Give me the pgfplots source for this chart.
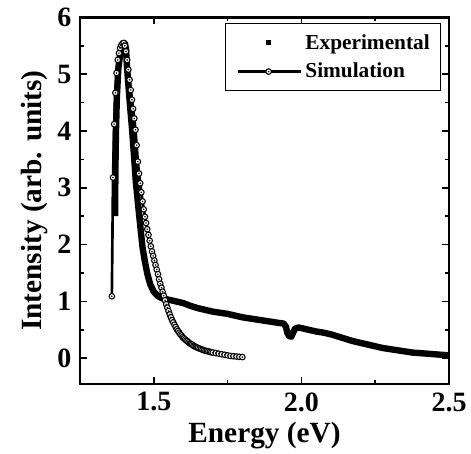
\documentclass[border=0pt]{standalone}
\usepackage{fontspec}
\setmainfont{Liberation Serif}
\usepackage{pgfplots}
\pgfplotsset{compat=1.18}

% open circle with a dot in the middle
\pgfdeclareplotmark{odot}{%
  \pgfpathcircle{\pgfpointorigin}{\pgfplotmarksize}%
  \pgfusepathqfillstroke
  \begin{pgfscope}
    \pgfsetfillcolor{black}%
    \pgfpathcircle{\pgfpointorigin}{0.32\pgfplotmarksize}%
    \pgfusepathqfill
  \end{pgfscope}}

\begin{document}
\begin{tikzpicture}
\begin{axis}[
  scale only axis, width=277pt, height=275pt,
  xmin=1.25, xmax=2.5, ymin=-0.45, ymax=6,
  xtick={1.5,2.0,2.5}, minor xtick={1.75,2.25},
  ytick={0,1,2,3,4,5,6}, minor ytick={0.5,1.5,2.5,3.5,4.5,5.5},
  xtick pos=both, ytick pos=both, tick align=inside,
  major tick length=5pt, minor tick length=3pt,
  every tick/.style={black, line width=1.2pt},
  axis line style={line width=1.8pt},
  /pgf/number format/assume math mode=true,
  tick label style={font=\fontsize{21}{25}\selectfont\bfseries},
  xticklabel style={/pgf/number format/fixed, /pgf/number format/fixed zerofill,
    /pgf/number format/precision=1, yshift=-3pt},
  yticklabel style={xshift=-3pt},
  label style={font=\fontsize{22}{26}\selectfont\bfseries},
  xlabel style={yshift=-1pt},
  xlabel={Energy (eV)}, ylabel={Intensity (arb. units)},
  legend style={at={(0.978,0.984)}, anchor=north east, draw=black, line width=0.8pt,
    font=\fontsize{16}{19}\selectfont\bfseries, inner xsep=7pt, inner ysep=6pt,
    row sep=5pt, nodes={inner xsep=1pt}},
  legend cell align=left,
]
\addplot[black, line width=4.8pt, line join=round,
  legend image code/.code={\path (0cm,0cm) (1.65cm,0cm);
    \fill[black, draw=none] (0.8cm-1.8pt,-1.8pt) rectangle ++(3.6pt,3.6pt);}]
  coordinates {
  (1.369,2.50) (1.370,3.30) (1.372,4.00) (1.375,4.60) (1.380,5.10) (1.387,5.38)
  (1.395,5.50) (1.402,5.55) (1.406,5.45) (1.409,5.15) (1.413,4.88) (1.418,4.55)
  (1.422,4.30) (1.427,4.00) (1.431,3.71) (1.435,3.42) (1.439,3.12) (1.445,2.80)
  (1.450,2.54) (1.456,2.24) (1.462,1.95) (1.470,1.70) (1.478,1.49) (1.488,1.30)
  (1.500,1.17) (1.515,1.09) (1.530,1.05) (1.550,1.03) (1.575,1.00) (1.600,0.97)
  (1.625,0.92) (1.650,0.88) (1.675,0.85) (1.700,0.82) (1.725,0.80) (1.750,0.78)
  (1.775,0.75) (1.800,0.72) (1.825,0.70) (1.850,0.68) (1.875,0.66) (1.900,0.64)
  (1.925,0.62) (1.940,0.61) (1.948,0.55) (1.952,0.45) (1.958,0.39) (1.966,0.38)
  (1.972,0.45) (1.978,0.52) (1.990,0.54) (2.000,0.53) (2.025,0.50) (2.050,0.47)
  (2.075,0.45) (2.100,0.42) (2.125,0.38) (2.150,0.34) (2.175,0.30) (2.200,0.27)
  (2.225,0.24) (2.250,0.21) (2.275,0.18) (2.300,0.16) (2.325,0.14) (2.350,0.12)
  (2.375,0.10) (2.400,0.09) (2.425,0.08) (2.450,0.07) (2.475,0.06) (2.500,0.05)
  };
\addlegendentry{Experimental}
\addplot[black, line width=2pt, mark=odot, mark size=2.1pt,
  mark options={fill=white, draw=black, line width=0.8pt},
  legend image code/.code={\draw[black, line width=2.2pt, mark=odot, mark size=2.1pt,
    mark options={fill=white, draw=black, line width=0.8pt},
    mark repeat=2, mark phase=2]
    plot coordinates {(0cm,0cm) (0.8cm,0cm) (1.65cm,0cm)};}]
  coordinates {
  (1.358,1.09) (1.362,3.18) (1.366,4.12) (1.370,4.67) (1.374,5.02) (1.378,5.25)
  (1.382,5.37) (1.386,5.46) (1.390,5.51) (1.394,5.54) (1.398,5.55) (1.402,5.50)
  (1.406,5.40) (1.410,5.25) (1.414,5.08) (1.418,4.90) (1.422,4.72) (1.426,4.55)
  (1.430,4.39) (1.434,4.22) (1.438,4.02) (1.442,3.75) (1.446,3.46) (1.450,3.25)
  (1.454,3.08) (1.458,2.92) (1.462,2.76) (1.466,2.62) (1.470,2.49) (1.474,2.38)
  (1.478,2.27) (1.482,2.17) (1.486,2.07) (1.490,1.97) (1.494,1.88) (1.498,1.80)
  (1.502,1.72) (1.506,1.64) (1.510,1.56) (1.514,1.48) (1.518,1.39) (1.522,1.31)
  (1.526,1.24) (1.530,1.17) (1.534,1.10) (1.538,1.02) (1.542,0.95) (1.546,0.89)
  (1.550,0.83) (1.554,0.77) (1.558,0.72) (1.562,0.67) (1.566,0.63) (1.570,0.59)
  (1.574,0.55) (1.578,0.51) (1.582,0.48) (1.586,0.45) (1.590,0.42) (1.594,0.40)
  (1.598,0.37) (1.602,0.35) (1.606,0.33) (1.610,0.31) (1.614,0.30) (1.618,0.28)
  (1.622,0.26) (1.626,0.25) (1.630,0.24) (1.634,0.22) (1.638,0.21) (1.642,0.20)
  (1.646,0.19) (1.650,0.18) (1.655,0.17) (1.660,0.16) (1.665,0.15) (1.670,0.14)
  (1.675,0.13) (1.680,0.125) (1.685,0.12) (1.690,0.11) (1.695,0.105) (1.700,0.10)
  (1.710,0.09) (1.720,0.08) (1.730,0.07) (1.740,0.06) (1.750,0.05) (1.760,0.04)
  (1.770,0.035) (1.780,0.03) (1.790,0.025) (1.800,0.02)
  };
\addlegendentry{Simulation}
\end{axis}
% blank margin on the left and top, as in the reference
\path ([xshift=-60pt,yshift=13pt]current axis.north west);
\end{tikzpicture}
\end{document}
